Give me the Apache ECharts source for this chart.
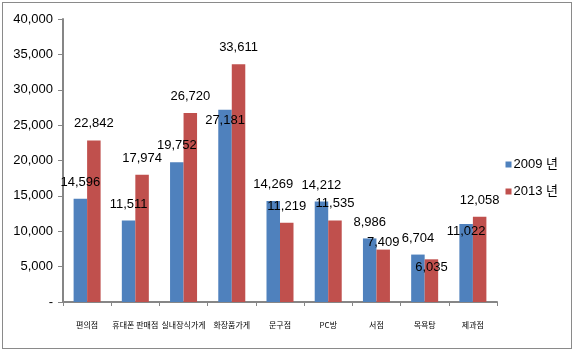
<!DOCTYPE html>
<html>
<head>
<meta charset="utf-8">
<script src="https://cdn.jsdelivr.net/npm/echarts@6/dist/echarts.min.js"></script>
<style>
html,body{margin:0;padding:0;background:#fff;}
#wrap{position:relative;width:575px;height:356px;}
#chart{width:575px;height:356px;}
#frame{position:absolute;left:2px;top:2px;width:568px;height:345px;border:1.5px solid #8a8a8a;pointer-events:none;}
</style>
</head>
<body>
<div id="wrap"><div id="chart"></div><div id="frame"></div></div>
<script>
const categories = ['편의점','휴대폰 판매점','실내장식가게','화장품가게','문구점','PC방','서점','목욕탕','제과점'];
const seriesNames = ['2009 년','2013 년'];
const values2009 = [14596, 11511, 19752, 27181, 14269, 14212, 8986, 6704, 11022];
const values2013 = [22842, 17974, 26720, 33611, 11219, 11535, 7409, 6035, 12058];
const yTicks = [0, 5000, 10000, 15000, 20000, 25000, 30000, 35000, 40000];

// label nudges (vertical, px) for labels that were moved in the original
const nudge2009 = {3: 27, 8: 24};
const nudge2013 = {6: 9, 7: 25};

const numFont = '"Liberation Sans Narrow","Liberation Sans",sans-serif';
const krFont = '"Noto Sans CJK KR",sans-serif';

function withLabels(vals, nudge) {
  return vals.map((v, i) => {
    const d = {value: v};
    if (nudge[i] !== undefined) d.label = {offset: [0, nudge[i]]};
    return d;
  });
}

const chart = echarts.init(document.getElementById('chart'), null, {renderer: 'canvas'});
const labelCfg = {
  show: true, position: 'top', distance: 10, color: '#000',
  fontFamily: numFont, fontSize: 13,
  formatter: p => p.value.toLocaleString('en-US')
};
chart.setOption({
  animation: false,
  backgroundColor: '#fff',
  grid: {left: 63, right: 78, top: 19, bottom: 54, containLabel: false},
  legend: {
    orient: 'vertical', right: 12, top: 153, itemWidth: 6, itemHeight: 6,
    itemGap: 14, icon: 'rect',
    textStyle: {fontFamily: '"Liberation Sans Narrow","Liberation Sans","Noto Sans CJK KR",sans-serif', fontSize: 13, color: '#000', padding: [0,0,0,-3]},
    data: seriesNames
  },
  xAxis: {
    type: 'category', data: categories,
    axisLine: {lineStyle: {color: '#868686', width: 2}},
    axisTick: {show: true, length: 4, lineStyle: {color: '#868686', width: 1}},
    axisLabel: {fontFamily: krFont, fontSize: 8, color: '#000', margin: 19, interval: 0}
  },
  yAxis: {
    type: 'value', min: yTicks[0], max: yTicks[yTicks.length-1], interval: yTicks[1]-yTicks[0],
    axisLine: {show: true, lineStyle: {color: '#868686', width: 2}},
    axisTick: {show: true, length: 5, lineStyle: {color: '#868686'}},
    splitLine: {show: false},
    axisLabel: {
      fontFamily: numFont, fontSize: 13, color: '#000', margin: 10,
      formatter: v => v === 0 ? '-' : v.toLocaleString('en-US')
    }
  },
  series: [
    {name: seriesNames[0], type: 'bar', data: withLabels(values2009, nudge2009),
     itemStyle: {color: '#4F81BD'}, barGap: '0%', barCategoryGap: '44%', label: labelCfg},
    {name: seriesNames[1], type: 'bar', data: withLabels(values2013, nudge2013),
     itemStyle: {color: '#C0504D'}, barGap: '0%', barCategoryGap: '44%', label: labelCfg}
  ]
});
</script>
</body>
</html>
